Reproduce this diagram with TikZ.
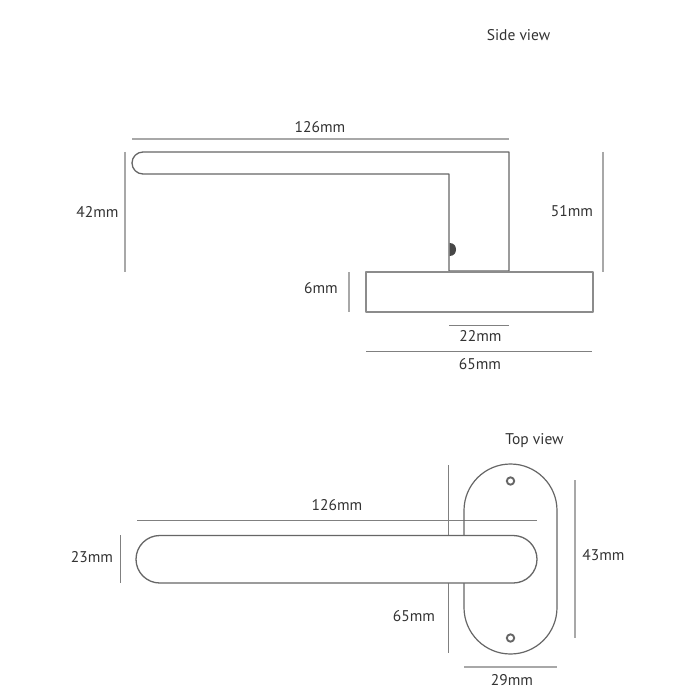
\documentclass[tikz,border=0pt]{standalone}
\usepackage{fontspec}
\setmainfont{PT Sans}
\definecolor{outl}{HTML}{666666}
\definecolor{diml}{HTML}{A8A8A8}
\definecolor{thin}{HTML}{808080}
\definecolor{txt}{HTML}{333333}
\tikzset{
  outline/.style={draw=outl,line width=1.3pt,line join=round},
  dimline/.style={draw=diml,line width=1.1pt},
  thindim/.style={draw=thin,line width=0.9pt},
  lab/.style={text=txt,font=\fontsize{15.5}{17}\selectfont,inner sep=0pt,anchor=center}
}
\begin{document}
\begin{tikzpicture}[x=1pt,y=-1pt]
\useasboundingbox[fill=white] (0,0) rectangle (700,700);
% side view
\draw[dimline] (132,139) -- (509,139);
\draw[dimline] (125,152) -- (125,272);
\draw[dimline] (603,152) -- (603,272);
\draw[dimline] (349,272) -- (349,312);
\draw[thindim] (449,325) -- (509,325);
\draw[thindim] (366,351) -- (592,351);
\draw[outline] (300,152) [rounded corners=11pt] -- (132,152) -- (132,174) -- (300,174) [sharp corners] -- (449,174) -- (449,271) -- (509,271) -- (509,152) -- cycle;
\draw[outline,draw=outl!75] (366,272) rectangle (593,312);
\fill[outl!70!black] (449.5,243) .. controls (454,243) and (456,246) .. (456,249.5) .. controls (456,253) and (454,256) .. (449.5,256) -- cycle;
% top view
\draw[thindim] (448,465) -- (448,653);
\draw[thindim] (137,520) -- (537,520);
\draw[thindim] (120,535) -- (120,583);
\draw[dimline] (575,480) -- (575,638);
\draw[dimline] (464,667) -- (557,667);
\draw[outline,line width=1.2pt,rounded corners=46.5pt] (464,464) rectangle (557,654);
\draw[outline,fill=white,rounded corners=23.75pt] (136,535.5) rectangle (537,583);
\draw[outline,line width=1.9pt] (510.5,481) circle[radius=3.7pt];
\draw[outline,line width=1.9pt] (510.5,638) circle[radius=3.7pt];
% labels
\node[lab] (sideview) at (518.5,35.5) {Side view};
\node[lab] (a) at (320,127.5) {126mm};
\node[lab] (b) at (97.5,211.5) {42mm};
\node[lab] (c) at (572,211.5) {51mm};
\node[lab] (d) at (321,288.5) {6mm};
\node[lab] (e) at (480.5,335.5) {22mm};
\node[lab] (f) at (480,364) {65mm};
\node[lab] (topview) at (534.5,441) {Top view};
\node[lab] (g) at (337,505) {126mm};
\node[lab] (h) at (92,557) {23mm};
\node[lab] (i) at (603.5,555.5) {43mm};
\node[lab] (j) at (414,616) {65mm};
\node[lab] (k) at (512,680) {29mm};
\end{tikzpicture}
\end{document}
